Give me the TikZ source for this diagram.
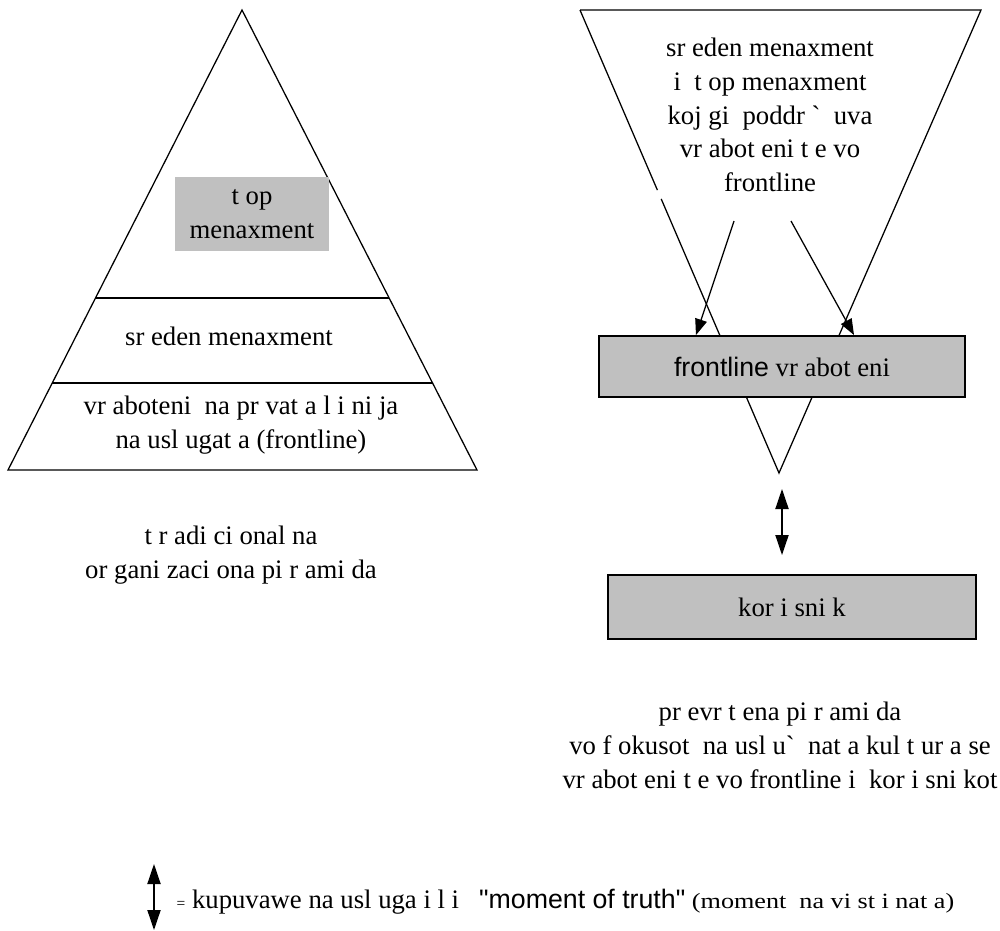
\documentclass[tikz,border=0pt]{standalone}
\usepackage{fontspec}
\setmainfont{Liberation Serif}
\newfontfamily\arialfont{Liberation Sans}
\newfontfamily\wideserif[FakeStretch=1.2]{Liberation Serif}
\usetikzlibrary{arrows.meta,calc,positioning}

\definecolor{boxgray}{HTML}{C0C0C0}

\tikzset{
    txt/.style={align=center, inner sep=0pt},
    graybox/.style={draw, line width=1.3pt, fill=boxgray, inner sep=0pt},
    tip/.style={-{Triangle[length=0.4cm, width=0.3cm]}},
    dtip/.style={{Triangle[length=0.5cm, width=0.33cm]}-{Triangle[length=0.5cm, width=0.33cm]}}
}

\begin{document}
\begin{tikzpicture}[x=0.025cm, y=-0.025cm, line width=0.9pt,
    font=\fontsize{19}{24}\selectfont]
    \useasboundingbox (0,0) rectangle (1000,930);

    % tradicionalna piramida
    \coordinate (top) at (242,10);
    \coordinate (bl) at (8,470);
    \coordinate (br) at (477,470);
    \draw (top) -- (bl) -- (br) -- cycle;
    \draw ($(top)!0.626!(bl)$) -- ($(top)!0.626!(br)$);
    \draw ($(top)!0.811!(bl)$) -- ($(top)!0.811!(br)$);

    \node[fill=boxgray, inner sep=0pt, minimum width=3.85cm, minimum height=1.85cm,
        align=center] (topm) at (252,214) {t op\\menaxment};
    \node[txt] (mid) at (229,336) {sr eden menaxment};
    \node[txt] (base) at (241,425) {vr aboteni\ \ na pr vat a l i ni ja\\na usl ugat a (frontline)};
    \node[txt] (capl) at (231,555) {t r adi ci onal na\\or gani zaci ona pi r ami da};

    % prevrtena piramida
    \coordinate (itl) at (580,10);
    \coordinate (itr) at (981,10);
    \coordinate (ibot) at (779,473);
    \draw (itl) -- ($(itl)!0.389!(ibot)$);
    \draw ($(itl)!0.408!(ibot)$) -- (ibot) -- (itr) -- (itl);
    \node[txt] (supp) at (770,115) {sr eden menaxment\\i\ \ t op menaxment\\koj gi\ \ poddr \textasciigrave\ \ uva\\vr abot eni t e vo\\frontline};

    \coordinate (s1) at (734,221);
    \coordinate (s2) at (791,221);
    \node[graybox, minimum width=9.15cm, minimum height=1.525cm] (fl) at (782,366.5)
        {{\arialfont frontline} vr abot eni\hspace{0.2cm}};
    \draw[tip] (s1) -- ([xshift=-2.15cm]fl.north);
    \draw[tip] (s2) -- ([xshift=1.8cm]fl.north);

    \coordinate (m1) at (782,489);
    \coordinate (m2) at (782,555);
    \draw[dtip] (m1) -- (m2);
    \node[graybox, minimum width=9.2cm, minimum height=1.6cm] (kor) at (792,607) {kor i sni k};

    \node[txt] (capr) at (780,745.5) {pr evr t ena pi r ami da\\vo f okusot\ \ na usl u\textasciigrave\ \ nat a kul t ur a se\\vr abot eni t e vo frontline i\ \ kor i sni kot};

    % legenda
    \coordinate (l1) at (154,864);
    \coordinate (l2) at (154,930);
    \draw[dtip] (l1) -- (l2);
    \node[txt, anchor=west] (leg) at (176,902) {{\fontsize{11}{12}\selectfont=} kupuvawe na usl uga i l i\ \ \ {\arialfont "moment of truth"} {\wideserif\fontsize{15.5}{16}\selectfont(moment\ \ na vi st i nat a)}};
\end{tikzpicture}
\end{document}
